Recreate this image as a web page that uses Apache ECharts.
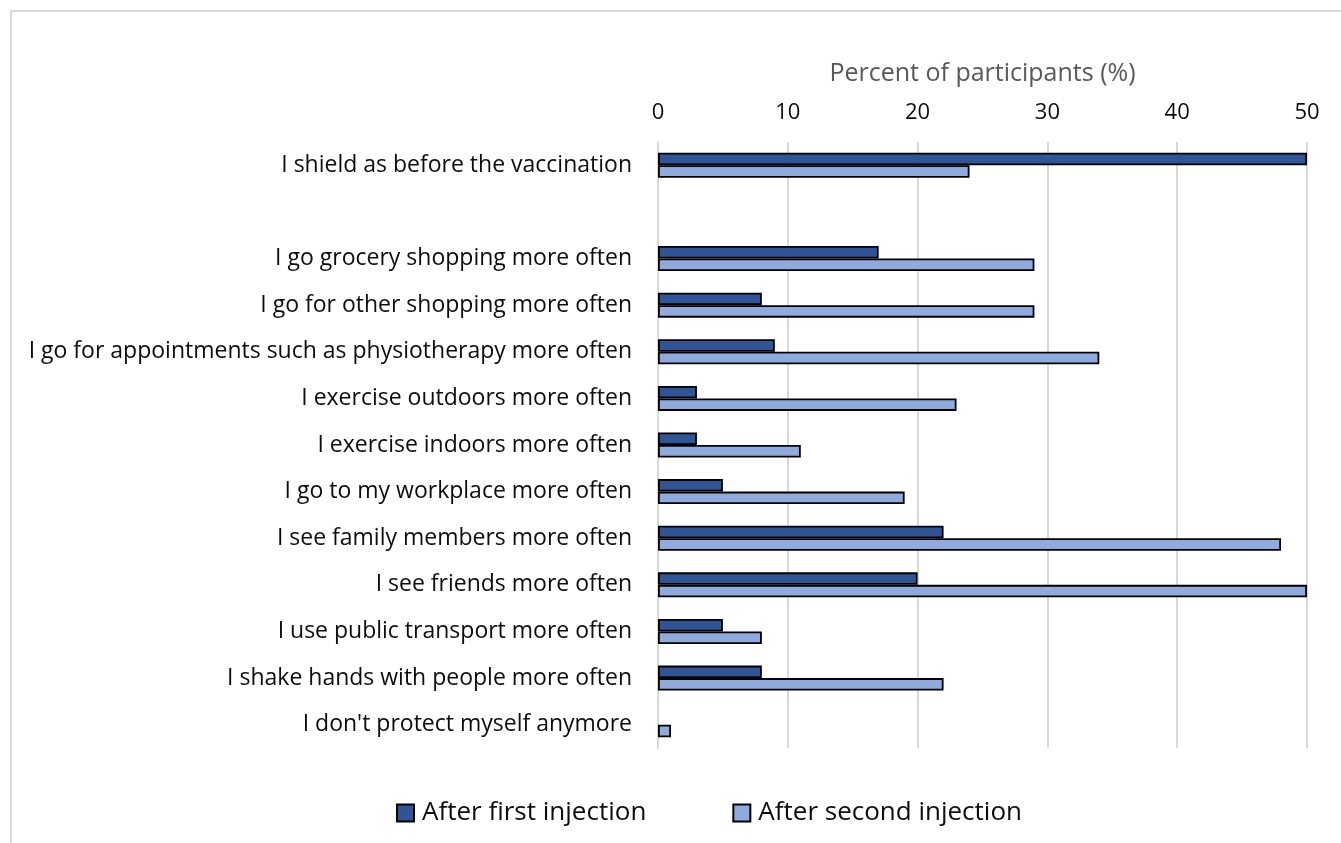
<!DOCTYPE html>
<html><head><meta charset="utf-8">
<script src="https://cdn.jsdelivr.net/npm/echarts@6/dist/echarts.min.js"></script>
<style>html,body{margin:0;padding:0;background:#fff}#c{width:1341px;height:843px}</style>
</head><body><div id="c"></div>
<script>
const categories = [
  "I shield as before the vaccination",
  "",
  "I go grocery shopping more often",
  "I go for other shopping more often",
  "I go for appointments such as physiotherapy more often",
  "I exercise outdoors more often",
  "I exercise indoors more often",
  "I go to my workplace more often",
  "I see family members more often",
  "I see friends more often",
  "I use public transport more often",
  "I shake hands with people more often",
  "I don't protect myself anymore"
];
const afterFirst  = [50, null, 17, 8, 9, 3, 3, 5, 22, 20, 5, 8, 0];
const afterSecond = [24, null, 29, 29, 34, 23, 11, 19, 48, 50, 8, 22, 1];
const xTicks = [0, 10, 20, 30, 40, 50];

const toItems = arr => arr.map(v => v === 0 ? {value: 0, itemStyle: {borderWidth: 0}} : v);

const chart = echarts.init(document.getElementById('c'));
const font = "'Open Sans', 'Noto Sans', sans-serif";
chart.setOption({
  animation: false,
  textStyle: {fontFamily: font},
  graphic: [{type:'rect', shape:{x:11,y:11,width:1340,height:840}, style:{fill:'none', stroke:'#d9d9d9', lineWidth:2}, silent:true}],
  grid: {left: 658, right: 34, top: 142, bottom: 95, containLabel: false},
  legend: {
    top: 795, left: 391, itemWidth: 17, itemHeight: 17, itemGap: 86, icon: 'rect',
    textStyle: {fontSize: 26, color: '#0d0d0d', fontFamily: font, padding: [0, 0, 0, 3]},
    data: ['After first injection', 'After second injection']
  },
  xAxis: {
    type: 'value', position: 'top', min: 0, max: 50, interval: 10,
    name: 'Percent of participants (%)', nameLocation: 'middle', nameGap: 56,
    nameTextStyle: {fontSize: 25, color: '#595959', fontFamily: font},
    axisLine: {show: false}, axisTick: {show: false},
    axisLabel: {fontSize: 22, color: '#0d0d0d', margin: 18, fontFamily: font,
      formatter: v => xTicks.includes(v) ? String(v) : ''},
    splitLine: {show: true, lineStyle: {color: '#d9d9d9', width: 2}}
  },
  yAxis: {
    type: 'category', data: categories, inverse: true,
    axisLine: {show: true, lineStyle: {color: '#d9d9d9', width: 2}},
    axisTick: {show: false},
    axisLabel: {fontSize: 23, color: '#0d0d0d', margin: 26, fontFamily: font}
  },
  series: [
    {name: 'After first injection', type: 'bar', data: toItems(afterFirst), barWidth: 12.5, barGap: '0%',
     itemStyle: {color: '#2F5597', borderColor: '#000', borderWidth: 1.8}},
    {name: 'After second injection', type: 'bar', data: toItems(afterSecond), barWidth: 12.5, barGap: '0%',
     itemStyle: {color: '#8FAADC', borderColor: '#000', borderWidth: 1.8}}
  ]
});
</script></body></html>
